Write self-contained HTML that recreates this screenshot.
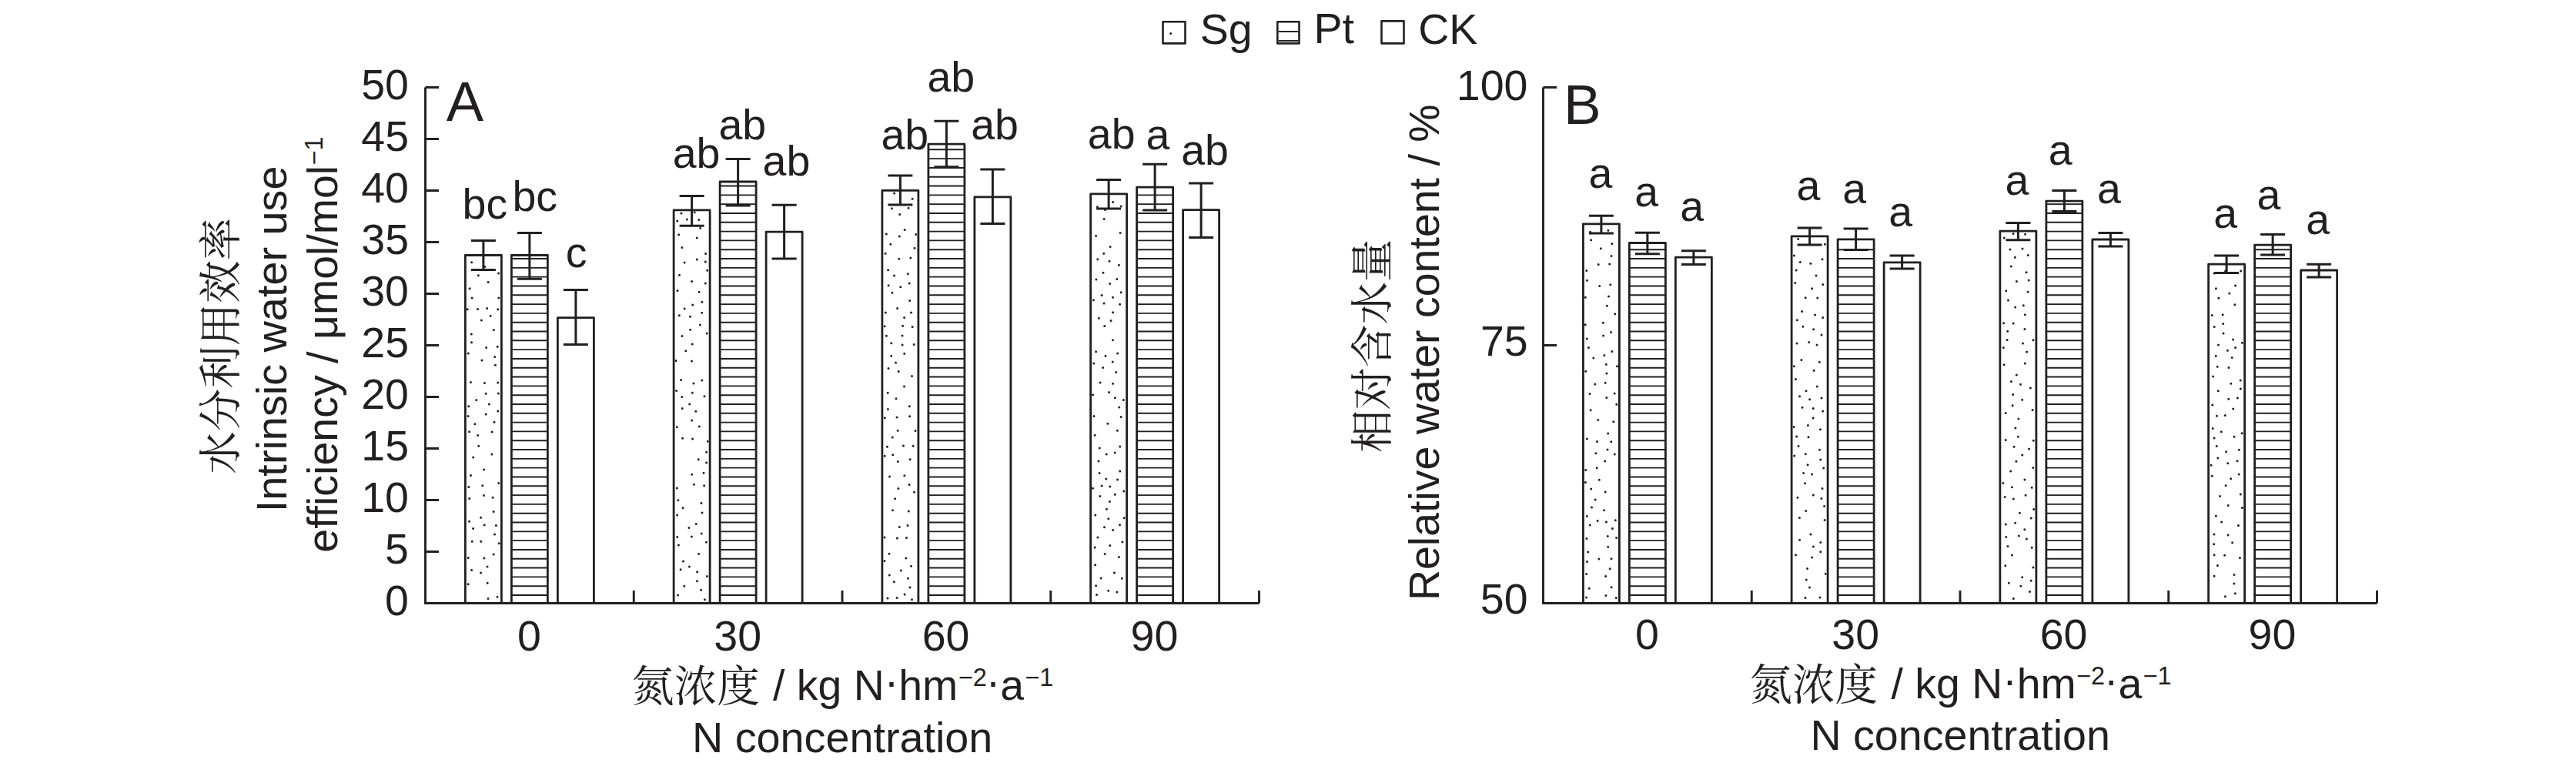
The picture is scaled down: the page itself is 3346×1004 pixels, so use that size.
<!DOCTYPE html>
<html><head><meta charset="utf-8"><title>chart</title>
<style>html,body{margin:0;padding:0;background:#fff;}svg{display:block;}</style></head>
<body><svg width="3346" height="1004" viewBox="0 0 3346 1004" fill="#231f20">
<rect width="3346" height="1004" fill="#fff"/>
<path d="M552.5 113.5V783.5H1635.5" fill="none" stroke="#231f20" stroke-width="2.9" stroke-linejoin="miter"/>
<path d="M552.5 783.50H570.0M552.5 716.50H570.0M552.5 649.50H570.0M552.5 582.50H570.0M552.5 515.50H570.0M552.5 448.50H570.0M552.5 381.50H570.0M552.5 314.50H570.0M552.5 247.50H570.0M552.5 180.50H570.0M552.5 113.50H570.0M823.25 783.5V767.0M1094.00 783.5V767.0M1364.75 783.5V767.0M1635.50 783.5V767.0" fill="none" stroke="#231f20" stroke-width="2.9"/>
<path d="M612.6 340.7h0M629.7 346.4h0M647.6 355.1h0M621.3 357.8h0M634.1 366.6h0M610.1 374.8h0M613.1 386.9h0M647.8 387.0h0M632.6 400.6h0M620.6 401.6h0M646.8 401.7h0M607.2 401.8h0M637.2 410.2h0M625.4 416.0h0M641.4 428.5h0M612.3 433.9h0M612.5 444.8h0M646.2 450.2h0M631.6 451.6h0M608.3 459.0h0M642.7 463.6h0M625.9 468.1h0M643.4 474.3h0M611.4 496.6h0M646.7 497.0h0M629.4 497.5h0M647.4 511.0h0M631.1 511.3h0M618.7 519.6h0M635.3 525.1h0M608.7 527.8h0M646.8 533.9h0M631.2 537.9h0M608.1 540.4h0M642.0 548.3h0M616.8 550.7h0M609.6 560.8h0M639.1 560.9h0M620.7 565.6h0M621.7 579.2h0M638.8 590.0h0M614.7 593.9h0M628.5 609.9h0M611.5 617.4h0M647.8 627.6h0M626.8 630.7h0M608.8 632.5h0M628.4 643.5h0M640.1 646.3h0M609.7 647.4h0M641.1 664.5h0M624.5 672.2h0M609.6 677.2h0M629.2 682.0h0M644.4 682.4h0M614.6 686.5h0M642.5 694.1h0M613.2 703.2h0M624.8 703.3h0M648.2 705.8h0M641.1 719.9h0M608.2 724.5h0M628.9 724.9h0M633.0 736.1h0M612.6 740.4h0M624.6 743.9h0M633.2 757.3h0M608.1 758.7h0M646.0 775.3h0M634.0 777.5h0M902.2 275.8h0M884.9 277.1h0M892.3 284.9h0M907.8 285.5h0M879.7 287.1h0M909.7 296.2h0M881.6 304.7h0M905.2 309.0h0M885.9 321.5h0M916.6 329.4h0M905.4 336.9h0M916.3 340.0h0M889.1 341.1h0M918.7 351.2h0M882.5 357.2h0M898.6 365.5h0M916.3 368.1h0M880.0 377.6h0M908.1 379.3h0M911.9 392.2h0M899.7 396.1h0M889.1 401.1h0M911.8 406.3h0M882.3 409.8h0M896.5 411.3h0M909.4 422.1h0M896.6 428.2h0M918.1 433.1h0M886.0 436.5h0M899.3 446.9h0M890.7 455.7h0M878.0 468.4h0M898.4 468.9h0M884.6 493.6h0M911.8 493.9h0M900.9 498.1h0M878.6 507.4h0M899.3 510.3h0M915.0 514.7h0M885.8 515.4h0M895.7 524.9h0M886.2 530.5h0M903.8 534.3h0M898.7 545.9h0M908.3 553.9h0M879.3 554.7h0M886.6 569.3h0M899.6 570.0h0M919.3 573.2h0M917.6 587.2h0M907.2 596.8h0M917.6 601.1h0M914.0 614.3h0M898.6 616.2h0M901.5 629.3h0M914.6 630.8h0M879.3 633.9h0M880.9 649.8h0M910.9 653.5h0M887.1 659.7h0M912.0 665.9h0M879.6 669.0h0M904.2 680.4h0M894.9 685.6h0M911.2 693.0h0M898.4 697.1h0M879.7 697.4h0M917.4 704.2h0M881.4 708.0h0M907.6 719.6h0M887.5 729.0h0M895.4 735.9h0M884.1 739.8h0M905.6 742.8h0M918.4 748.4h0M905.5 754.7h0M888.8 761.3h0M910.6 766.3h0M880.6 773.1h0M915.4 778.8h0M1161.6 251.1h0M1185.1 258.2h0M1180.0 270.3h0M1158.3 270.7h0M1168.7 278.4h0M1175.1 298.5h0M1151.3 303.9h0M1189.7 304.4h0M1168.3 306.9h0M1156.8 317.3h0M1188.0 322.3h0M1150.1 329.3h0M1182.8 335.1h0M1167.8 336.3h0M1153.6 350.7h0M1179.2 355.8h0M1161.6 358.0h0M1181.2 367.9h0M1154.1 370.7h0M1169.7 372.8h0M1158.9 380.3h0M1181.7 390.6h0M1165.6 400.4h0M1150.3 405.9h0M1183.5 406.0h0M1174.6 412.5h0M1172.6 423.2h0M1149.1 423.7h0M1185.1 424.4h0M1172.0 436.0h0M1151.4 436.3h0M1157.7 445.7h0M1187.2 447.6h0M1172.1 448.0h0M1174.7 459.3h0M1157.7 462.2h0M1163.5 471.0h0M1154.0 478.5h0M1167.2 482.6h0M1184.5 488.4h0M1174.5 502.0h0M1153.2 510.3h0M1164.0 517.7h0M1181.3 527.7h0M1153.4 531.6h0M1181.6 540.8h0M1165.0 541.9h0M1149.3 542.7h0M1166.1 559.2h0M1189.0 559.5h0M1159.2 568.1h0M1173.4 579.0h0M1186.1 579.2h0M1152.4 580.2h0M1159.7 590.7h0M1149.2 592.2h0M1182.1 596.7h0M1166.3 599.6h0M1174.8 617.7h0M1155.5 619.0h0M1181.1 629.6h0M1166.8 634.5h0M1187.5 639.2h0M1162.6 647.8h0M1159.4 662.7h0M1180.3 663.9h0M1179.0 682.5h0M1168.3 684.6h0M1148.9 698.1h0M1177.5 698.5h0M1165.4 699.1h0M1155.0 719.2h0M1176.8 725.1h0M1148.9 728.4h0M1183.5 735.2h0M1170.3 741.1h0M1155.3 746.9h0M1179.5 751.3h0M1161.4 755.8h0M1182.0 763.0h0M1175.1 772.1h0M1165.1 776.6h0M1153.0 776.9h0M1184.5 778.8h0M1445.6 262.6h0M1456.2 267.9h0M1425.4 268.8h0M1435.5 272.5h0M1434.1 284.5h0M1455.1 302.5h0M1423.6 306.2h0M1442.1 320.5h0M1433.7 329.3h0M1425.8 336.7h0M1441.0 339.3h0M1453.4 344.3h0M1433.0 354.2h0M1450.8 362.5h0M1423.9 362.9h0M1441.7 368.6h0M1456.1 379.8h0M1431.1 383.5h0M1445.5 386.2h0M1420.3 389.7h0M1434.0 394.1h0M1454.6 395.3h0M1445.6 405.8h0M1427.4 413.3h0M1443.0 416.5h0M1434.7 423.4h0M1445.4 441.7h0M1423.6 456.8h0M1451.6 459.1h0M1436.0 462.2h0M1445.2 470.0h0M1420.7 471.9h0M1432.6 477.6h0M1449.8 483.4h0M1429.1 497.1h0M1445.6 498.3h0M1440.6 509.6h0M1419.6 512.8h0M1448.4 516.8h0M1459.3 519.6h0M1453.7 529.1h0M1421.0 540.5h0M1456.1 541.5h0M1438.8 550.3h0M1451.4 559.3h0M1422.1 565.2h0M1454.7 579.9h0M1428.2 582.1h0M1448.1 588.1h0M1437.2 589.9h0M1427.0 598.9h0M1454.7 612.1h0M1428.1 614.6h0M1436.8 621.9h0M1451.5 622.9h0M1431.1 631.1h0M1441.8 631.9h0M1419.5 634.3h0M1459.8 637.9h0M1448.3 642.2h0M1428.7 644.6h0M1441.4 651.5h0M1437.5 661.2h0M1422.8 669.1h0M1460.2 672.7h0M1439.8 673.7h0M1454.5 681.7h0M1434.5 684.7h0M1445.7 688.6h0M1425.9 698.1h0M1457.9 704.1h0M1441.8 708.5h0M1422.2 711.1h0M1435.1 719.6h0M1453.4 723.4h0M1422.6 733.7h0M1447.4 743.9h0M1430.2 751.1h0M1457.3 751.3h0M1423.6 760.8h0M1439.7 767.3h0M1451.0 769.0h0M1424.5 772.4h0" stroke="#231f20" stroke-width="3.0" stroke-linecap="round"/>
<path d="M664.38 773.00H711.38M664.38 761.19H711.38M664.38 749.38H711.38M664.38 737.57H711.38M664.38 725.76H711.38M664.38 713.95H711.38M664.38 702.14H711.38M664.38 690.33H711.38M664.38 678.52H711.38M664.38 666.71H711.38M664.38 654.90H711.38M664.38 643.09H711.38M664.38 631.28H711.38M664.38 619.47H711.38M664.38 607.66H711.38M664.38 595.85H711.38M664.38 584.04H711.38M664.38 572.23H711.38M664.38 560.42H711.38M664.38 548.61H711.38M664.38 536.80H711.38M664.38 524.99H711.38M664.38 513.18H711.38M664.38 501.37H711.38M664.38 489.56H711.38M664.38 477.75H711.38M664.38 465.94H711.38M664.38 454.13H711.38M664.38 442.32H711.38M664.38 430.51H711.38M664.38 418.70H711.38M664.38 406.89H711.38M664.38 395.08H711.38M664.38 383.27H711.38M664.38 371.46H711.38M664.38 359.65H711.38M664.38 347.84H711.38M664.38 336.03H711.38M935.12 773.00H982.12M935.12 761.19H982.12M935.12 749.38H982.12M935.12 737.57H982.12M935.12 725.76H982.12M935.12 713.95H982.12M935.12 702.14H982.12M935.12 690.33H982.12M935.12 678.52H982.12M935.12 666.71H982.12M935.12 654.90H982.12M935.12 643.09H982.12M935.12 631.28H982.12M935.12 619.47H982.12M935.12 607.66H982.12M935.12 595.85H982.12M935.12 584.04H982.12M935.12 572.23H982.12M935.12 560.42H982.12M935.12 548.61H982.12M935.12 536.80H982.12M935.12 524.99H982.12M935.12 513.18H982.12M935.12 501.37H982.12M935.12 489.56H982.12M935.12 477.75H982.12M935.12 465.94H982.12M935.12 454.13H982.12M935.12 442.32H982.12M935.12 430.51H982.12M935.12 418.70H982.12M935.12 406.89H982.12M935.12 395.08H982.12M935.12 383.27H982.12M935.12 371.46H982.12M935.12 359.65H982.12M935.12 347.84H982.12M935.12 336.03H982.12M935.12 324.22H982.12M935.12 312.41H982.12M935.12 300.60H982.12M935.12 288.79H982.12M935.12 276.98H982.12M935.12 265.17H982.12M935.12 253.36H982.12M935.12 241.55H982.12M1205.88 773.00H1252.88M1205.88 761.19H1252.88M1205.88 749.38H1252.88M1205.88 737.57H1252.88M1205.88 725.76H1252.88M1205.88 713.95H1252.88M1205.88 702.14H1252.88M1205.88 690.33H1252.88M1205.88 678.52H1252.88M1205.88 666.71H1252.88M1205.88 654.90H1252.88M1205.88 643.09H1252.88M1205.88 631.28H1252.88M1205.88 619.47H1252.88M1205.88 607.66H1252.88M1205.88 595.85H1252.88M1205.88 584.04H1252.88M1205.88 572.23H1252.88M1205.88 560.42H1252.88M1205.88 548.61H1252.88M1205.88 536.80H1252.88M1205.88 524.99H1252.88M1205.88 513.18H1252.88M1205.88 501.37H1252.88M1205.88 489.56H1252.88M1205.88 477.75H1252.88M1205.88 465.94H1252.88M1205.88 454.13H1252.88M1205.88 442.32H1252.88M1205.88 430.51H1252.88M1205.88 418.70H1252.88M1205.88 406.89H1252.88M1205.88 395.08H1252.88M1205.88 383.27H1252.88M1205.88 371.46H1252.88M1205.88 359.65H1252.88M1205.88 347.84H1252.88M1205.88 336.03H1252.88M1205.88 324.22H1252.88M1205.88 312.41H1252.88M1205.88 300.60H1252.88M1205.88 288.79H1252.88M1205.88 276.98H1252.88M1205.88 265.17H1252.88M1205.88 253.36H1252.88M1205.88 241.55H1252.88M1205.88 229.74H1252.88M1205.88 217.93H1252.88M1205.88 206.12H1252.88M1205.88 194.31H1252.88M1476.62 773.00H1523.62M1476.62 761.19H1523.62M1476.62 749.38H1523.62M1476.62 737.57H1523.62M1476.62 725.76H1523.62M1476.62 713.95H1523.62M1476.62 702.14H1523.62M1476.62 690.33H1523.62M1476.62 678.52H1523.62M1476.62 666.71H1523.62M1476.62 654.90H1523.62M1476.62 643.09H1523.62M1476.62 631.28H1523.62M1476.62 619.47H1523.62M1476.62 607.66H1523.62M1476.62 595.85H1523.62M1476.62 584.04H1523.62M1476.62 572.23H1523.62M1476.62 560.42H1523.62M1476.62 548.61H1523.62M1476.62 536.80H1523.62M1476.62 524.99H1523.62M1476.62 513.18H1523.62M1476.62 501.37H1523.62M1476.62 489.56H1523.62M1476.62 477.75H1523.62M1476.62 465.94H1523.62M1476.62 454.13H1523.62M1476.62 442.32H1523.62M1476.62 430.51H1523.62M1476.62 418.70H1523.62M1476.62 406.89H1523.62M1476.62 395.08H1523.62M1476.62 383.27H1523.62M1476.62 371.46H1523.62M1476.62 359.65H1523.62M1476.62 347.84H1523.62M1476.62 336.03H1523.62M1476.62 324.22H1523.62M1476.62 312.41H1523.62M1476.62 300.60H1523.62M1476.62 288.79H1523.62M1476.62 276.98H1523.62M1476.62 265.17H1523.62M1476.62 253.36H1523.62" stroke="#231f20" stroke-width="1.9"/>
<path d="M604.38 783.5V331.50H651.38V783.5M664.38 783.5V331.50H711.38V783.5M724.38 783.5V412.60H771.38V783.5M875.12 783.5V272.90H922.12V783.5M935.12 783.5V236.00H982.12V783.5M995.12 783.5V301.10H1042.12V783.5M1145.88 783.5V247.30H1192.88V783.5M1205.88 783.5V187.20H1252.88V783.5M1265.88 783.5V255.80H1312.88V783.5M1416.62 783.5V251.90H1463.62V783.5M1476.62 783.5V243.10H1523.62V783.5M1536.62 783.5V272.60H1583.62V783.5" fill="none" stroke="#231f20" stroke-width="2.8" stroke-linejoin="round"/>
<path d="M627.88 312.50V350.50M611.88 312.50H643.88M611.88 350.50H643.88M687.88 302.50V362.20M671.88 302.50H703.88M671.88 362.20H703.88M747.88 376.40V447.50M731.88 376.40H763.88M731.88 447.50H763.88M898.62 254.50V293.20M882.62 254.50H914.62M882.62 293.20H914.62M958.62 206.60V267.10M942.62 206.60H974.62M942.62 267.10H974.62M1018.62 266.30V336.10M1002.62 266.30H1034.62M1002.62 336.10H1034.62M1169.38 228.00V266.10M1153.38 228.00H1185.38M1153.38 266.10H1185.38M1229.38 157.20V216.70M1213.38 157.20H1245.38M1213.38 216.70H1245.38M1289.38 220.10V290.60M1273.38 220.10H1305.38M1273.38 290.60H1305.38M1440.12 233.50V271.00M1424.12 233.50H1456.12M1424.12 271.00H1456.12M1500.12 213.30V273.10M1484.12 213.30H1516.12M1484.12 273.10H1516.12M1560.12 238.10V308.50M1544.12 238.10H1576.12M1544.12 308.50H1576.12" fill="none" stroke="#231f20" stroke-width="3"/>
<text x="600.61" y="284.49" font-size="55.5" font-family="'Liberation Sans', Arial, Helvetica, sans-serif" text-anchor="start" >bc</text>
<text x="665.41" y="273.54" font-size="55.5" font-family="'Liberation Sans', Arial, Helvetica, sans-serif" text-anchor="start" >bc</text>
<text x="734.81" y="347.14" font-size="55.5" font-family="'Liberation Sans', Arial, Helvetica, sans-serif" text-anchor="start" >c</text>
<text x="873.63" y="218.44" font-size="55.5" font-family="'Liberation Sans', Arial, Helvetica, sans-serif" text-anchor="start" >ab</text>
<text x="933.48" y="181.14" font-size="55.5" font-family="'Liberation Sans', Arial, Helvetica, sans-serif" text-anchor="start" >ab</text>
<text x="990.58" y="227.69" font-size="55.5" font-family="'Liberation Sans', Arial, Helvetica, sans-serif" text-anchor="start" >ab</text>
<text x="1144.38" y="194.24" font-size="55.5" font-family="'Liberation Sans', Arial, Helvetica, sans-serif" text-anchor="start" >ab</text>
<text x="1204.43" y="119.34" font-size="55.5" font-family="'Liberation Sans', Arial, Helvetica, sans-serif" text-anchor="start" >ab</text>
<text x="1261.23" y="181.44" font-size="55.5" font-family="'Liberation Sans', Arial, Helvetica, sans-serif" text-anchor="start" >ab</text>
<text x="1412.83" y="193.44" font-size="55.5" font-family="'Liberation Sans', Arial, Helvetica, sans-serif" text-anchor="start" >ab</text>
<text x="1488.42" y="194.44" font-size="55.5" font-family="'Liberation Sans', Arial, Helvetica, sans-serif" text-anchor="start" >a</text>
<text x="1534.23" y="214.39" font-size="55.5" font-family="'Liberation Sans', Arial, Helvetica, sans-serif" text-anchor="start" >ab</text>
<path d="M2004.5 113.5V783.5H3087.5" fill="none" stroke="#231f20" stroke-width="2.9" stroke-linejoin="miter"/>
<path d="M2004.5 783.50H2022.0M2004.5 448.50H2022.0M2004.5 113.50H2022.0M2275.25 783.5V767.0M2546.00 783.5V767.0M2816.75 783.5V767.0M3087.50 783.5V767.0" fill="none" stroke="#231f20" stroke-width="2.9"/>
<path d="M2088.9 299.3h0M2065.5 301.3h0M2066.7 311.7h0M2093.8 316.6h0M2079.3 322.8h0M2093.0 332.5h0M2090.7 343.1h0M2076.2 343.4h0M2060.8 351.6h0M2061.5 364.2h0M2091.8 369.7h0M2077.7 371.5h0M2089.5 385.0h0M2059.4 386.2h0M2087.4 397.2h0M2097.7 407.7h0M2082.4 419.3h0M2059.2 421.8h0M2092.6 431.6h0M2082.6 436.1h0M2061.2 440.0h0M2063.5 451.4h0M2093.9 456.6h0M2083.9 461.6h0M2069.8 465.1h0M2086.3 473.3h0M2100.5 475.8h0M2059.8 482.2h0M2086.9 485.1h0M2085.2 497.2h0M2071.7 499.1h0M2097.2 511.1h0M2065.0 511.5h0M2086.8 516.6h0M2099.8 525.2h0M2066.1 532.8h0M2075.8 545.5h0M2095.8 547.8h0M2088.7 563.1h0M2061.4 570.0h0M2074.4 573.6h0M2092.7 573.8h0M2088.0 584.0h0M2072.9 588.7h0M2097.3 590.1h0M2084.7 598.9h0M2074.2 607.7h0M2059.8 610.5h0M2077.3 623.3h0M2059.4 626.6h0M2066.7 635.0h0M2085.2 639.0h0M2072.1 648.9h0M2067.5 659.0h0M2083.7 662.7h0M2061.3 670.6h0M2098.3 675.7h0M2075.1 676.5h0M2086.4 677.9h0M2065.2 681.9h0M2094.4 686.6h0M2088.3 696.6h0M2099.6 698.5h0M2060.9 699.4h0M2088.7 710.2h0M2062.8 717.1h0M2093.0 725.8h0M2076.9 726.1h0M2061.5 729.5h0M2091.2 738.8h0M2060.7 745.4h0M2085.7 748.4h0M2093.1 762.8h0M2064.2 764.2h0M2085.9 773.5h0M2060.6 775.9h0M2099.2 776.6h0M2335.7 310.6h0M2350.3 317.0h0M2370.4 317.2h0M2330.4 332.0h0M2367.0 336.8h0M2338.3 340.6h0M2351.9 342.3h0M2333.2 350.9h0M2359.0 358.1h0M2331.8 367.6h0M2367.8 369.6h0M2353.6 374.7h0M2345.1 386.7h0M2360.8 387.1h0M2340.6 404.6h0M2357.6 409.1h0M2367.7 412.5h0M2334.4 415.7h0M2341.9 424.3h0M2355.6 427.7h0M2366.0 435.1h0M2349.7 444.5h0M2334.0 446.0h0M2360.0 447.9h0M2339.9 467.5h0M2363.3 470.2h0M2330.4 475.8h0M2356.1 481.3h0M2332.5 492.4h0M2360.3 501.9h0M2346.0 507.7h0M2337.6 514.7h0M2366.0 516.9h0M2350.6 518.8h0M2341.0 529.3h0M2355.3 530.5h0M2367.6 534.1h0M2355.1 543.0h0M2348.4 552.5h0M2330.1 554.5h0M2364.4 557.7h0M2333.6 567.0h0M2349.0 567.8h0M2336.0 579.5h0M2363.5 584.2h0M2345.3 589.8h0M2330.7 592.0h0M2364.7 596.9h0M2348.1 603.8h0M2368.7 607.9h0M2342.6 614.6h0M2353.5 616.0h0M2344.5 627.7h0M2367.0 634.6h0M2355.3 643.0h0M2334.9 646.2h0M2365.9 647.4h0M2369.6 657.5h0M2345.7 663.5h0M2337.4 672.5h0M2370.1 675.4h0M2351.9 693.9h0M2337.6 701.3h0M2364.8 704.4h0M2355.4 710.0h0M2364.8 716.8h0M2332.5 720.7h0M2353.7 724.0h0M2347.6 738.5h0M2371.2 745.3h0M2346.3 753.0h0M2350.5 763.1h0M2363.9 776.0h0M2345.0 776.4h0M2615.1 303.4h0M2630.6 304.2h0M2603.2 308.9h0M2627.0 323.1h0M2611.0 323.9h0M2634.3 331.6h0M2617.4 334.2h0M2612.3 345.9h0M2632.1 353.8h0M2635.2 363.9h0M2619.4 365.5h0M2605.7 377.8h0M2634.0 379.0h0M2608.5 390.0h0M2628.3 396.8h0M2617.7 399.1h0M2630.4 408.7h0M2602.6 419.7h0M2615.2 419.9h0M2629.9 427.5h0M2607.7 430.3h0M2607.1 441.4h0M2640.9 441.8h0M2627.5 445.9h0M2602.3 451.4h0M2632.6 457.1h0M2630.3 471.9h0M2603.1 473.8h0M2619.3 487.1h0M2612.4 495.6h0M2624.5 499.3h0M2637.4 504.0h0M2614.7 512.5h0M2626.7 519.2h0M2614.1 526.8h0M2640.1 532.5h0M2605.2 536.4h0M2621.9 544.1h0M2617.9 556.1h0M2621.3 567.2h0M2605.2 571.4h0M2641.3 572.2h0M2616.1 580.3h0M2635.5 582.9h0M2626.8 591.0h0M2618.9 599.2h0M2640.8 607.4h0M2611.7 611.9h0M2629.9 623.1h0M2601.9 627.6h0M2613.4 632.8h0M2639.2 633.3h0M2631.1 643.3h0M2604.2 645.5h0M2615.3 648.0h0M2641.7 661.4h0M2623.4 666.2h0M2638.3 673.1h0M2617.7 679.2h0M2605.3 681.0h0M2629.8 687.8h0M2622.3 696.1h0M2605.8 697.4h0M2632.4 700.0h0M2608.0 709.4h0M2639.2 711.2h0M2613.5 721.0h0M2604.8 734.7h0M2640.9 737.0h0M2626.7 749.7h0M2638.2 754.3h0M2609.3 757.2h0M2624.8 761.3h0M2636.5 768.4h0M2615.3 777.6h0M2890.6 351.9h0M2910.7 352.0h0M2876.1 355.1h0M2903.6 371.0h0M2878.4 374.8h0M2895.8 380.9h0M2881.9 387.3h0M2902.8 395.8h0M2887.2 408.7h0M2873.3 409.4h0M2887.7 420.4h0M2876.2 424.4h0M2888.0 433.1h0M2900.6 440.9h0M2912.4 445.2h0M2881.5 448.1h0M2903.6 451.4h0M2893.4 455.3h0M2878.2 462.5h0M2899.2 464.5h0M2880.2 476.3h0M2895.0 477.4h0M2874.6 489.1h0M2910.2 494.0h0M2897.7 498.3h0M2910.3 504.9h0M2881.2 507.8h0M2906.4 517.0h0M2894.8 518.3h0M2873.8 526.0h0M2900.7 531.1h0M2890.2 539.6h0M2879.4 540.2h0M2874.2 556.6h0M2885.3 560.8h0M2912.1 562.8h0M2902.0 567.2h0M2876.1 569.0h0M2879.2 579.4h0M2908.3 584.2h0M2891.7 586.8h0M2880.8 594.9h0M2906.1 598.7h0M2893.7 601.8h0M2872.1 604.3h0M2908.2 616.0h0M2873.3 618.2h0M2897.6 621.8h0M2891.1 630.8h0M2910.3 642.1h0M2883.4 644.6h0M2894.2 656.6h0M2912.4 659.6h0M2878.4 670.0h0M2885.6 677.9h0M2907.5 682.5h0M2876.0 694.0h0M2894.1 695.0h0M2899.6 704.8h0M2875.7 706.8h0M2876.1 720.7h0M2889.6 721.3h0M2909.4 724.4h0M2880.4 734.5h0M2902.0 746.5h0M2876.1 748.2h0M2901.9 758.0h0M2903.4 770.8h0M2890.4 774.7h0" stroke="#231f20" stroke-width="3.0" stroke-linecap="round"/>
<path d="M2116.38 773.00H2163.38M2116.38 761.19H2163.38M2116.38 749.38H2163.38M2116.38 737.57H2163.38M2116.38 725.76H2163.38M2116.38 713.95H2163.38M2116.38 702.14H2163.38M2116.38 690.33H2163.38M2116.38 678.52H2163.38M2116.38 666.71H2163.38M2116.38 654.90H2163.38M2116.38 643.09H2163.38M2116.38 631.28H2163.38M2116.38 619.47H2163.38M2116.38 607.66H2163.38M2116.38 595.85H2163.38M2116.38 584.04H2163.38M2116.38 572.23H2163.38M2116.38 560.42H2163.38M2116.38 548.61H2163.38M2116.38 536.80H2163.38M2116.38 524.99H2163.38M2116.38 513.18H2163.38M2116.38 501.37H2163.38M2116.38 489.56H2163.38M2116.38 477.75H2163.38M2116.38 465.94H2163.38M2116.38 454.13H2163.38M2116.38 442.32H2163.38M2116.38 430.51H2163.38M2116.38 418.70H2163.38M2116.38 406.89H2163.38M2116.38 395.08H2163.38M2116.38 383.27H2163.38M2116.38 371.46H2163.38M2116.38 359.65H2163.38M2116.38 347.84H2163.38M2116.38 336.03H2163.38M2116.38 324.22H2163.38M2387.12 773.00H2434.12M2387.12 761.19H2434.12M2387.12 749.38H2434.12M2387.12 737.57H2434.12M2387.12 725.76H2434.12M2387.12 713.95H2434.12M2387.12 702.14H2434.12M2387.12 690.33H2434.12M2387.12 678.52H2434.12M2387.12 666.71H2434.12M2387.12 654.90H2434.12M2387.12 643.09H2434.12M2387.12 631.28H2434.12M2387.12 619.47H2434.12M2387.12 607.66H2434.12M2387.12 595.85H2434.12M2387.12 584.04H2434.12M2387.12 572.23H2434.12M2387.12 560.42H2434.12M2387.12 548.61H2434.12M2387.12 536.80H2434.12M2387.12 524.99H2434.12M2387.12 513.18H2434.12M2387.12 501.37H2434.12M2387.12 489.56H2434.12M2387.12 477.75H2434.12M2387.12 465.94H2434.12M2387.12 454.13H2434.12M2387.12 442.32H2434.12M2387.12 430.51H2434.12M2387.12 418.70H2434.12M2387.12 406.89H2434.12M2387.12 395.08H2434.12M2387.12 383.27H2434.12M2387.12 371.46H2434.12M2387.12 359.65H2434.12M2387.12 347.84H2434.12M2387.12 336.03H2434.12M2387.12 324.22H2434.12M2657.88 773.00H2704.88M2657.88 761.19H2704.88M2657.88 749.38H2704.88M2657.88 737.57H2704.88M2657.88 725.76H2704.88M2657.88 713.95H2704.88M2657.88 702.14H2704.88M2657.88 690.33H2704.88M2657.88 678.52H2704.88M2657.88 666.71H2704.88M2657.88 654.90H2704.88M2657.88 643.09H2704.88M2657.88 631.28H2704.88M2657.88 619.47H2704.88M2657.88 607.66H2704.88M2657.88 595.85H2704.88M2657.88 584.04H2704.88M2657.88 572.23H2704.88M2657.88 560.42H2704.88M2657.88 548.61H2704.88M2657.88 536.80H2704.88M2657.88 524.99H2704.88M2657.88 513.18H2704.88M2657.88 501.37H2704.88M2657.88 489.56H2704.88M2657.88 477.75H2704.88M2657.88 465.94H2704.88M2657.88 454.13H2704.88M2657.88 442.32H2704.88M2657.88 430.51H2704.88M2657.88 418.70H2704.88M2657.88 406.89H2704.88M2657.88 395.08H2704.88M2657.88 383.27H2704.88M2657.88 371.46H2704.88M2657.88 359.65H2704.88M2657.88 347.84H2704.88M2657.88 336.03H2704.88M2657.88 324.22H2704.88M2657.88 312.41H2704.88M2657.88 300.60H2704.88M2657.88 288.79H2704.88M2657.88 276.98H2704.88M2657.88 265.17H2704.88M2928.62 773.00H2975.62M2928.62 761.19H2975.62M2928.62 749.38H2975.62M2928.62 737.57H2975.62M2928.62 725.76H2975.62M2928.62 713.95H2975.62M2928.62 702.14H2975.62M2928.62 690.33H2975.62M2928.62 678.52H2975.62M2928.62 666.71H2975.62M2928.62 654.90H2975.62M2928.62 643.09H2975.62M2928.62 631.28H2975.62M2928.62 619.47H2975.62M2928.62 607.66H2975.62M2928.62 595.85H2975.62M2928.62 584.04H2975.62M2928.62 572.23H2975.62M2928.62 560.42H2975.62M2928.62 548.61H2975.62M2928.62 536.80H2975.62M2928.62 524.99H2975.62M2928.62 513.18H2975.62M2928.62 501.37H2975.62M2928.62 489.56H2975.62M2928.62 477.75H2975.62M2928.62 465.94H2975.62M2928.62 454.13H2975.62M2928.62 442.32H2975.62M2928.62 430.51H2975.62M2928.62 418.70H2975.62M2928.62 406.89H2975.62M2928.62 395.08H2975.62M2928.62 383.27H2975.62M2928.62 371.46H2975.62M2928.62 359.65H2975.62M2928.62 347.84H2975.62M2928.62 336.03H2975.62M2928.62 324.22H2975.62" stroke="#231f20" stroke-width="1.9"/>
<path d="M2056.38 783.5V290.90H2103.38V783.5M2116.38 783.5V315.50H2163.38V783.5M2176.38 783.5V334.10H2223.38V783.5M2327.12 783.5V306.90H2374.12V783.5M2387.12 783.5V310.80H2434.12V783.5M2447.12 783.5V340.80H2494.12V783.5M2597.88 783.5V300.10H2644.88V783.5M2657.88 783.5V261.10H2704.88V783.5M2717.88 783.5V311.00H2764.88V783.5M2868.62 783.5V343.20H2915.62V783.5M2928.62 783.5V318.10H2975.62V783.5M2988.62 783.5V351.00H3035.62V783.5" fill="none" stroke="#231f20" stroke-width="2.8" stroke-linejoin="round"/>
<path d="M2079.88 280.30V303.10M2063.88 280.30H2095.88M2063.88 303.10H2095.88M2139.88 302.30V329.70M2123.88 302.30H2155.88M2123.88 329.70H2155.88M2199.88 325.80V343.40M2183.88 325.80H2215.88M2183.88 343.40H2215.88M2350.62 296.10V318.10M2334.62 296.10H2366.62M2334.62 318.10H2366.62M2410.62 296.90V324.50M2394.62 296.90H2426.62M2394.62 324.50H2426.62M2470.62 332.00V349.10M2454.62 332.00H2486.62M2454.62 349.10H2486.62M2621.38 289.50V311.80M2605.38 289.50H2637.38M2605.38 311.80H2637.38M2681.38 247.40V274.50M2665.38 247.40H2697.38M2665.38 274.50H2697.38M2741.38 302.50V320.10M2725.38 302.50H2757.38M2725.38 320.10H2757.38M2892.12 332.10V354.40M2876.12 332.10H2908.12M2876.12 354.40H2908.12M2952.12 304.40V331.10M2936.12 304.40H2968.12M2936.12 331.10H2968.12M3012.12 343.20V360.10M2996.12 343.20H3028.12M2996.12 360.10H3028.12" fill="none" stroke="#231f20" stroke-width="3"/>
<text x="2063.52" y="244.34" font-size="55.5" font-family="'Liberation Sans', Arial, Helvetica, sans-serif" text-anchor="start" >a</text>
<text x="2123.32" y="267.99" font-size="55.5" font-family="'Liberation Sans', Arial, Helvetica, sans-serif" text-anchor="start" >a</text>
<text x="2182.32" y="287.19" font-size="55.5" font-family="'Liberation Sans', Arial, Helvetica, sans-serif" text-anchor="start" >a</text>
<text x="2333.52" y="259.99" font-size="55.5" font-family="'Liberation Sans', Arial, Helvetica, sans-serif" text-anchor="start" >a</text>
<text x="2393.32" y="264.04" font-size="55.5" font-family="'Liberation Sans', Arial, Helvetica, sans-serif" text-anchor="start" >a</text>
<text x="2453.17" y="294.39" font-size="55.5" font-family="'Liberation Sans', Arial, Helvetica, sans-serif" text-anchor="start" >a</text>
<text x="2604.42" y="253.19" font-size="55.5" font-family="'Liberation Sans', Arial, Helvetica, sans-serif" text-anchor="start" >a</text>
<text x="2660.72" y="213.99" font-size="55.5" font-family="'Liberation Sans', Arial, Helvetica, sans-serif" text-anchor="start" >a</text>
<text x="2724.12" y="263.94" font-size="55.5" font-family="'Liberation Sans', Arial, Helvetica, sans-serif" text-anchor="start" >a</text>
<text x="2875.22" y="296.19" font-size="55.5" font-family="'Liberation Sans', Arial, Helvetica, sans-serif" text-anchor="start" >a</text>
<text x="2931.52" y="271.59" font-size="55.5" font-family="'Liberation Sans', Arial, Helvetica, sans-serif" text-anchor="start" >a</text>
<text x="2995.17" y="303.84" font-size="55.5" font-family="'Liberation Sans', Arial, Helvetica, sans-serif" text-anchor="start" >a</text>
<text x="499.98" y="799.28" font-size="55.5" font-family="'Liberation Sans', Arial, Helvetica, sans-serif" text-anchor="start" >0</text>
<text x="500.12" y="732.00" font-size="55.5" font-family="'Liberation Sans', Arial, Helvetica, sans-serif" text-anchor="start" >5</text>
<text x="469.18" y="665.28" font-size="55.5" font-family="'Liberation Sans', Arial, Helvetica, sans-serif" text-anchor="start" >10</text>
<text x="469.32" y="598.00" font-size="55.5" font-family="'Liberation Sans', Arial, Helvetica, sans-serif" text-anchor="start" >15</text>
<text x="469.18" y="531.28" font-size="55.5" font-family="'Liberation Sans', Arial, Helvetica, sans-serif" text-anchor="start" >20</text>
<text x="469.32" y="464.28" font-size="55.5" font-family="'Liberation Sans', Arial, Helvetica, sans-serif" text-anchor="start" >25</text>
<text x="469.18" y="397.28" font-size="55.5" font-family="'Liberation Sans', Arial, Helvetica, sans-serif" text-anchor="start" >30</text>
<text x="469.32" y="330.28" font-size="55.5" font-family="'Liberation Sans', Arial, Helvetica, sans-serif" text-anchor="start" >35</text>
<text x="469.18" y="263.28" font-size="55.5" font-family="'Liberation Sans', Arial, Helvetica, sans-serif" text-anchor="start" >40</text>
<text x="469.32" y="196.00" font-size="55.5" font-family="'Liberation Sans', Arial, Helvetica, sans-serif" text-anchor="start" >45</text>
<text x="469.18" y="129.28" font-size="55.5" font-family="'Liberation Sans', Arial, Helvetica, sans-serif" text-anchor="start" >50</text>
<text x="1891.84" y="129.58" font-size="55.5" font-family="'Liberation Sans', Arial, Helvetica, sans-serif" text-anchor="start" >100</text>
<text x="1922.91" y="462.45" font-size="55.5" font-family="'Liberation Sans', Arial, Helvetica, sans-serif" text-anchor="start" >75</text>
<text x="1922.78" y="796.58" font-size="55.5" font-family="'Liberation Sans', Arial, Helvetica, sans-serif" text-anchor="start" >50</text>
<text x="671.90" y="844.68" font-size="55.5" font-family="'Liberation Sans', Arial, Helvetica, sans-serif" text-anchor="start" >0</text>
<text x="2123.90" y="842.88" font-size="55.5" font-family="'Liberation Sans', Arial, Helvetica, sans-serif" text-anchor="start" >0</text>
<text x="927.32" y="844.68" font-size="55.5" font-family="'Liberation Sans', Arial, Helvetica, sans-serif" text-anchor="start" >30</text>
<text x="2379.32" y="842.88" font-size="55.5" font-family="'Liberation Sans', Arial, Helvetica, sans-serif" text-anchor="start" >30</text>
<text x="1197.73" y="844.68" font-size="55.5" font-family="'Liberation Sans', Arial, Helvetica, sans-serif" text-anchor="start" >60</text>
<text x="2649.73" y="842.88" font-size="55.5" font-family="'Liberation Sans', Arial, Helvetica, sans-serif" text-anchor="start" >60</text>
<text x="1468.55" y="844.68" font-size="55.5" font-family="'Liberation Sans', Arial, Helvetica, sans-serif" text-anchor="start" >90</text>
<text x="2920.55" y="842.88" font-size="55.5" font-family="'Liberation Sans', Arial, Helvetica, sans-serif" text-anchor="start" >90</text>
<text x="579.82" y="156.80" font-size="72.5" font-family="'Liberation Sans', Arial, Helvetica, sans-serif" text-anchor="start" >A</text>
<text x="2030.98" y="160.70" font-size="73" font-family="'Liberation Sans', Arial, Helvetica, sans-serif" text-anchor="start" >B</text>
<g fill="none" stroke="#231f20" stroke-width="2.6" stroke-linejoin="round"><rect x="1510.5" y="28.3" width="29" height="28.1"/><rect x="1659.3" y="28.3" width="28.2" height="28.1"/><rect x="1794.5" y="27.4" width="29" height="29"/></g>
<circle cx="1520.6" cy="43.6" r="1.5"/>
<path d="M1660.6 41H1686.4M1660.6 53H1686.4" stroke="#231f20" stroke-width="1.9"/>
<text x="1558.83" y="57.08" font-size="55.5" font-family="'Liberation Sans', Arial, Helvetica, sans-serif" text-anchor="start" >Sg</text>
<text x="1706.50" y="56.48" font-size="55.5" font-family="'Liberation Sans', Arial, Helvetica, sans-serif" text-anchor="start" >Pt</text>
<text x="1842.24" y="56.65" font-size="55.5" font-family="'Liberation Sans', Arial, Helvetica, sans-serif" text-anchor="start" >CK</text>
<text x="820.20" y="910.50" font-size="55.5" font-family="'Liberation Serif', 'Noto Serif CJK SC', serif">氮浓度</text>
<text x="1004.10" y="909.00" font-size="55.4" font-family="'Liberation Sans', Arial, Helvetica, sans-serif">/ kg N<tspan dy="-5">·</tspan><tspan dy="5">hm</tspan></text>
<text x="1244.70" y="891.00" font-size="32.5" font-family="'Liberation Sans', Arial, Helvetica, sans-serif">−2</text>
<text x="1280.70" y="909.00" font-size="55.4" font-family="'Liberation Sans', Arial, Helvetica, sans-serif"><tspan dy="-5">·</tspan><tspan dy="5">a</tspan></text>
<text x="1331.20" y="891.00" font-size="32.5" font-family="'Liberation Sans', Arial, Helvetica, sans-serif">−1</text>
<text x="899.03" y="976.50" font-size="55.72" font-family="'Liberation Sans', Arial, Helvetica, sans-serif">N concentration</text>
<text x="2272.60" y="908.50" font-size="55.5" font-family="'Liberation Serif', 'Noto Serif CJK SC', serif">氮浓度</text>
<text x="2456.50" y="907.00" font-size="55.4" font-family="'Liberation Sans', Arial, Helvetica, sans-serif">/ kg N<tspan dy="-5">·</tspan><tspan dy="5">hm</tspan></text>
<text x="2697.10" y="889.00" font-size="32.5" font-family="'Liberation Sans', Arial, Helvetica, sans-serif">−2</text>
<text x="2733.10" y="907.00" font-size="55.4" font-family="'Liberation Sans', Arial, Helvetica, sans-serif"><tspan dy="-5">·</tspan><tspan dy="5">a</tspan></text>
<text x="2783.60" y="889.00" font-size="32.5" font-family="'Liberation Sans', Arial, Helvetica, sans-serif">−1</text>
<text x="2351.43" y="973.90" font-size="55.61" font-family="'Liberation Sans', Arial, Helvetica, sans-serif">N concentration</text>
<text transform="translate(306.00,615.66) rotate(-90)" font-size="55.5" font-family="'Liberation Serif', 'Noto Serif CJK SC', serif">水分利用效率</text>
<text transform="translate(372.00,665.16) rotate(-90)" font-size="55.8" font-family="'Liberation Sans', Arial, Helvetica, sans-serif">Intrinsic water use</text>
<text transform="translate(438.00,717.66) rotate(-90)" font-size="55.5" font-family="'Liberation Sans', Arial, Helvetica, sans-serif">efficiency / μmol/mol</text>
<text transform="translate(418.60,214.53) rotate(-90)" font-size="32.5" font-family="'Liberation Sans', Arial, Helvetica, sans-serif">−1</text>
<text transform="translate(1802.00,588.06) rotate(-90)" font-size="55.5" font-family="'Liberation Serif', 'Noto Serif CJK SC', serif">相对含水量</text>
<text transform="translate(1869.00,780.08) rotate(-90)" font-size="55.5" font-family="'Liberation Sans', Arial, Helvetica, sans-serif">Relative water content / %</text>
</svg></body></html>
